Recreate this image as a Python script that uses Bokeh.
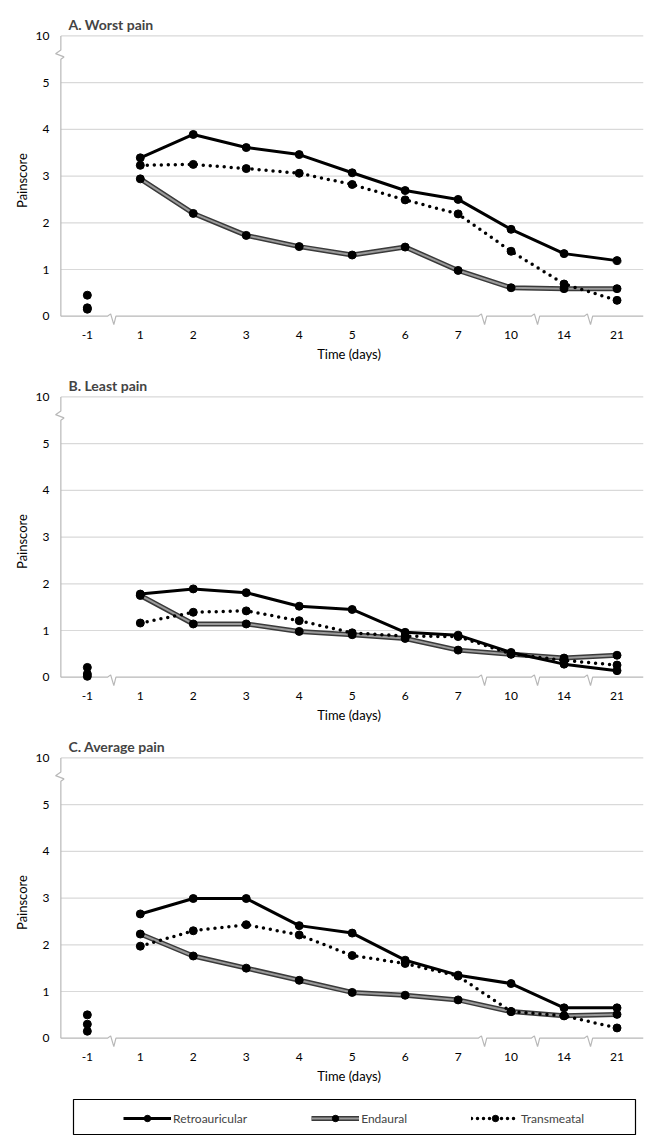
from bokeh.plotting import figure
from bokeh.layouts import column
from bokeh.models import Range1d, FixedTicker, ColumnDataSource, Legend, LegendItem, Spacer
from bokeh.embed import file_html
from bokeh.resources import INLINE

# ---------------- data ----------------
days = ["-1", "1", "2", "3", "4", "5", "6", "7", "10", "14", "21"]
y_ticks = [0, 1, 2, 3, 4, 5, 10]
break_after = ["-1", "7", "10", "14"]   # x-axis breaks follow these days

titles = ["A. Worst pain", "B. Least pain", "C. Average pain"]
series_names = ["Retroauricular", "Endaural", "Transmeatal"]

retro_worst = [0.45, 3.39, 3.89, 3.61, 3.46, 3.07, 2.69, 2.50, 1.86, 1.34, 1.19]
endo_worst = [0.18, 2.94, 2.20, 1.73, 1.49, 1.31, 1.48, 0.98, 0.61, 0.59, 0.59]
trans_worst = [0.15, 3.23, 3.25, 3.16, 3.06, 2.82, 2.49, 2.19, 1.39, 0.69, 0.34]

retro_least = [0.21, 1.78, 1.89, 1.81, 1.52, 1.45, 0.96, 0.90, 0.53, 0.28, 0.14]
endo_least = [0.07, 1.75, 1.14, 1.14, 0.98, 0.91, 0.83, 0.58, 0.49, 0.41, 0.47]
trans_least = [0.02, 1.16, 1.39, 1.42, 1.21, 0.95, 0.88, 0.87, 0.50, 0.36, 0.26]

retro_avg = [0.50, 2.66, 2.99, 2.99, 2.41, 2.25, 1.67, 1.35, 1.17, 0.65, 0.65]
endo_avg = [0.30, 2.23, 1.76, 1.50, 1.24, 0.98, 0.92, 0.82, 0.57, 0.48, 0.51]
trans_avg = [0.15, 1.97, 2.30, 2.43, 2.21, 1.77, 1.60, 1.33, 0.57, 0.48, 0.22]

panels = [
    (titles[0], retro_worst, endo_worst, trans_worst),
    (titles[1], retro_least, endo_least, trans_least),
    (titles[2], retro_avg, endo_avg, trans_avg),
]

FONT = "Lato"
GRID = "#d9d9d9"
SPINE = "#b8b8b8"
BORDER_L = 54
BORDER_R = 5
FRAME_W = 589


def ypos(v):
    # broken value axis: 0..5 linear, then one step up to 10
    return v if v <= 5 else 5 + (v - 5) / 5.0


def style_retro(p, xs, ys):
    p.line(xs, ys, line_color="black", line_width=3, line_join="round")


def style_endo(p, xs, ys):
    p.line(xs, ys, line_color="#3a3a3a", line_width=5, line_join="round")
    p.line(xs, ys, line_color="#9a9a9a", line_width=2, line_join="round")


def style_trans(p, xs, ys):
    p.line(xs, ys, line_color="black", line_width=3.5, line_dash="0 7",
           line_cap="round", line_join="round")


def panel(title, retro, endo, trans):
    n = len(days)
    p = figure(frame_width=FRAME_W, frame_height=292,
               x_range=Range1d(-0.62, n - 0.5), y_range=Range1d(-0.22, 6.03),
               output_backend="svg", toolbar_location=None,
               min_border_left=BORDER_L, min_border_right=BORDER_R,
               min_border_top=29, min_border_bottom=40)
    p.outline_line_color = None
    p.xgrid.visible = False
    p.ygrid.visible = False

    p.title.text = title
    p.title.text_font = FONT
    p.title.text_font_size = "14px"
    p.title.text_font_style = "bold"
    p.title.align = "left"
    p.title.offset = 14
    p.title.standoff = 4

    # gridlines at y ticks (except 0, which is the axis line)
    gy = [ypos(t) for t in y_ticks if t != 0]
    p.segment(x0=[-0.5] * len(gy), x1=[n - 0.5] * len(gy), y0=gy, y1=gy,
              line_color=GRID, line_width=1.2)

    # x axis line with break marks
    ax_x, ax_y = [-0.5], [0]
    for d in break_after:
        b = days.index(d) + 0.5
        ax_x += [b - 0.12, b - 0.06, b, b + 0.04]
        ax_y += [0, 0.05, -0.18, 0]
    ax_x.append(n - 0.5)
    ax_y.append(0)
    p.line(ax_x, ax_y, line_color=SPINE, line_width=1.2)

    # y axis line with break between 5 and 10
    top = ypos(10)
    p.line([-0.5, -0.5, -0.6, -0.44, -0.5, -0.5],
           [top, 5.7, 5.62, 5.55, 5.5, 0],
           line_color=SPINE, line_width=1.2)

    xs = list(range(1, n))
    style_endo(p, xs, endo[1:])
    style_retro(p, xs, retro[1:])
    style_trans(p, xs, trans[1:])
    for ser in (endo, retro, trans):
        p.scatter(list(range(n)), [ypos(v) for v in ser], size=8,
                  marker="circle", fill_color="black", line_color="black")

    # axes
    p.xaxis.ticker = FixedTicker(ticks=list(range(n)))
    p.xaxis.major_label_overrides = {i: d for i, d in enumerate(days)}
    p.yaxis.ticker = FixedTicker(ticks=[ypos(t) for t in y_ticks])
    p.yaxis.major_label_overrides = {ypos(t): str(t) for t in y_ticks}
    for ax in (p.xaxis, p.yaxis):
        ax.axis_line_color = None
        ax.major_tick_line_color = None
        ax.minor_tick_line_color = None
        ax.major_tick_out = 0
        ax.major_tick_in = 0
        ax.minor_tick_out = 0
        ax.minor_tick_in = 0
        ax.major_label_text_font = FONT
        ax.major_label_text_font_size = "12px"
        ax.major_label_text_color = "black"
        ax.axis_label_text_font = FONT
        ax.axis_label_text_font_size = "13px"
        ax.axis_label_text_font_style = "normal"
        ax.axis_label_text_color = "black"
    p.xaxis.major_label_standoff = 4
    p.yaxis.major_label_standoff = 5
    p.xaxis.axis_label = "Time (days)"
    p.xaxis.axis_label_standoff = 4
    p.yaxis.axis_label = "Painscore"
    p.yaxis.axis_label_standoff = 3
    return p


figs = [panel(*pp) for pp in panels]

# legend strip (pixel-unit ranges so the box can be placed precisely)
LG_H = 47
lg = figure(frame_width=FRAME_W, frame_height=LG_H,
            x_range=Range1d(0, FRAME_W), y_range=Range1d(0, LG_H),
            output_backend="svg", toolbar_location=None,
            x_axis_type=None, y_axis_type=None,
            min_border_left=BORDER_L, min_border_right=BORDER_R,
            min_border_top=0, min_border_bottom=0)
lg.outline_line_color = None
lg.quad(left=[19], right=[581], bottom=[1], top=[36],
        fill_color=None, line_color="black", line_width=1.2)
off = ColumnDataSource(dict(x=[-50, -40], y=[-50, -50]))
r_ret = lg.line("x", "y", source=off, line_color="black", line_width=3)
r_end1 = lg.line("x", "y", source=off, line_color="#3a3a3a", line_width=5)
r_end2 = lg.line("x", "y", source=off, line_color="#9a9a9a", line_width=2)
r_tr = lg.line("x", "y", source=off, line_color="black", line_width=3.5,
               line_dash="0 6", line_cap="round")
mk = [lg.scatter("x", "y", source=off, size=8, marker="circle",
                 fill_color="black", line_color="black") for _ in range(3)]
legend = Legend(items=[
    LegendItem(label=series_names[0], renderers=[r_ret, mk[0]]),
    LegendItem(label=series_names[1], renderers=[r_end1, r_end2, mk[1]]),
    LegendItem(label=series_names[2], renderers=[r_tr, mk[2]]),
], orientation="horizontal", location=(69, 9), padding=0, margin=0,
    spacing=64, glyph_width=48, glyph_height=16, label_standoff=2,
    label_text_font=FONT, label_text_font_size="12px",
    border_line_alpha=0, background_fill_alpha=0)
lg.add_layout(legend)

layout = column(Spacer(width=640, height=5), *figs, lg)
open("out.html", "w").write(file_html(layout, INLINE))
